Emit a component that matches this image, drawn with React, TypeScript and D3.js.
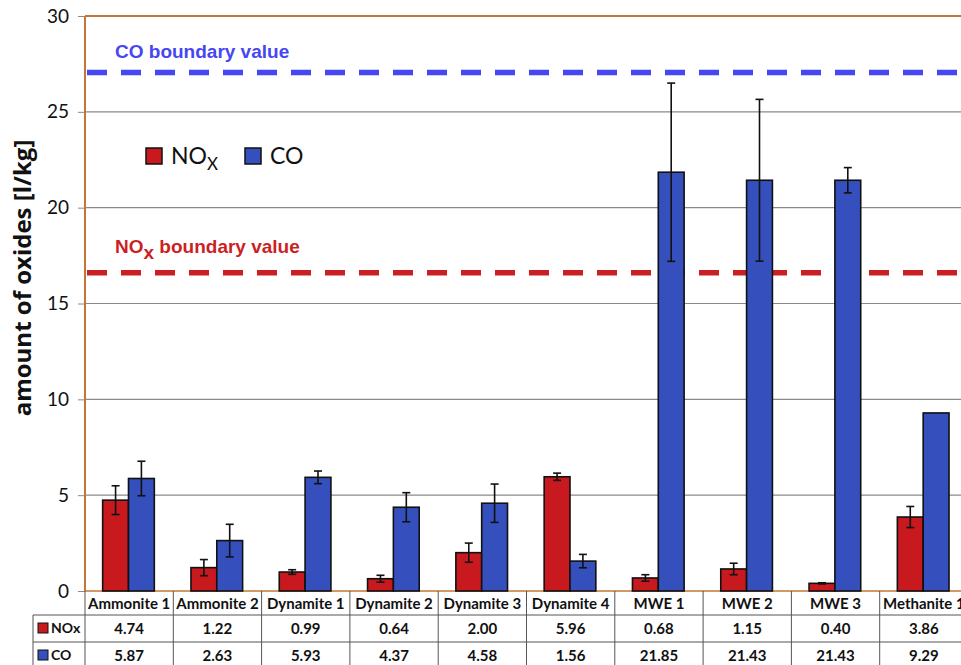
import { useRef, useEffect } from 'react';
import * as d3 from 'd3';

const categories = ['Ammonite 1', 'Ammonite 2', 'Dynamite 1', 'Dynamite 2', 'Dynamite 3', 'Dynamite 4', 'MWE 1', 'MWE 2', 'MWE 3', 'Methanite 1'];
const noxValues = [4.74, 1.22, 0.99, 0.64, 2.0, 5.96, 0.68, 1.15, 0.4, 3.86];
const coValues = [5.87, 2.63, 5.93, 4.37, 4.58, 1.56, 21.85, 21.43, 21.43, 9.29];
const noxErrors = [0.75, 0.42, 0.12, 0.18, 0.5, 0.19, 0.17, 0.3, 0.03, 0.55];
const coErrors = [0.9, 0.85, 0.33, 0.76, 1.0, 0.35, 4.65, 4.22, 0.66, 0];
const yTicks = [0, 5, 10, 15, 20, 25, 30];
const coBoundary = 27.05;
const noxBoundary = 16.6;

const RED = '#c8191f';
const BLUE = '#3550bd';
const FONT = 'Lato, "Open Sans", sans-serif';
const ARIAL = '"Liberation Sans", Arial, sans-serif';

export default function App() {
  const svgRef = useRef(null);
  const width = 961;
  const height = 665;

  useEffect(() => {
    const svg = d3.select(svgRef.current);
    svg.selectAll('*').remove();

    const left = 85;
    const right = 968;
    const top = 16;
    const bottom = 591;

    const x = d3.scaleBand().domain(categories).range([left, right]).paddingInner(0).paddingOuter(0);
    const inner = d3.scaleBand().domain(['NOx', 'CO']).range([x.bandwidth() * 0.2, x.bandwidth() * 0.785]).padding(0);
    const y = d3.scaleLinear().domain([0, 30]).range([bottom, top]);

    // gridlines
    svg.append('g')
      .selectAll('line')
      .data(yTicks.filter((t) => t > 0 && t < 30))
      .join('line')
      .attr('x1', left).attr('x2', right)
      .attr('y1', (d) => y(d)).attr('y2', (d) => y(d))
      .attr('stroke', '#8a8a8a').attr('stroke-width', 1.2);

    // y axis
    const yAxis = svg.append('g')
      .attr('transform', `translate(${left},0)`)
      .call(d3.axisLeft(y).tickValues(yTicks).tickSize(7).tickPadding(9));
    yAxis.select('.domain').remove();
    yAxis.selectAll('line').attr('stroke', '#8a8a8a');
    yAxis.selectAll('text').attr('font-family', FONT).attr('font-size', 19).attr('fill', '#111');

    // frame (orange)
    svg.append('line').attr('x1', left).attr('x2', right).attr('y1', top).attr('y2', top)
      .attr('stroke', '#c57636').attr('stroke-width', 2.2);
    svg.append('line').attr('x1', left).attr('x2', left).attr('y1', top).attr('y2', bottom)
      .attr('stroke', '#c57636').attr('stroke-width', 2);
    svg.append('line').attr('x1', left).attr('x2', right).attr('y1', bottom).attr('y2', bottom)
      .attr('stroke', '#c57636').attr('stroke-width', 1.5);

    // boundary lines
    svg.append('line').attr('x1', left + 2).attr('x2', right).attr('y1', y(coBoundary)).attr('y2', y(coBoundary))
      .attr('stroke', '#4646f2').attr('stroke-width', 5.5).attr('stroke-dasharray', '20 14');
    svg.append('line').attr('x1', left + 2).attr('x2', right).attr('y1', y(noxBoundary)).attr('y2', y(noxBoundary))
      .attr('stroke', '#cc1f24').attr('stroke-width', 5.5).attr('stroke-dasharray', '20 14');

    svg.append('text').attr('x', 115).attr('y', 58)
      .attr('font-family', ARIAL).attr('font-weight', 'bold').attr('font-size', 19).attr('fill', '#4646f2')
      .text('CO boundary value');
    const noxLabel = svg.append('text').attr('x', 115).attr('y', 253)
      .attr('font-family', ARIAL).attr('font-weight', 'bold').attr('font-size', 19).attr('fill', '#cc1f24');
    noxLabel.append('tspan').text('NO');
    noxLabel.append('tspan').attr('dy', 6).attr('font-size', 19).text('x');
    noxLabel.append('tspan').attr('dy', -6).text(' boundary value');

    // bars
    const series = [
      { key: 'NOx', values: noxValues, errors: noxErrors, color: RED },
      { key: 'CO', values: coValues, errors: coErrors, color: BLUE },
    ];
    series.forEach((s) => {
      const g = svg.append('g');
      g.selectAll('rect')
        .data(categories)
        .join('rect')
        .attr('x', (d) => x(d) + inner(s.key))
        .attr('y', (d, i) => y(s.values[i]))
        .attr('width', inner.bandwidth())
        .attr('height', (d, i) => y(0) - y(s.values[i]))
        .attr('fill', s.color)
        .attr('stroke', '#111')
        .attr('stroke-width', 1.6);

      const eb = g.selectAll('g.err')
        .data(categories.map((c, i) => ({ c, v: s.values[i], e: s.errors[i] })).filter((d) => d.e > 0))
        .join('g')
        .attr('transform', (d) => `translate(${x(d.c) + inner(s.key) + inner.bandwidth() / 2},0)`);
      eb.append('line').attr('y1', (d) => y(d.v + d.e)).attr('y2', (d) => y(d.v - d.e))
        .attr('stroke', '#111').attr('stroke-width', 1.6);
      eb.append('line').attr('x1', -4).attr('x2', 4).attr('y1', (d) => y(d.v + d.e)).attr('y2', (d) => y(d.v + d.e))
        .attr('stroke', '#111').attr('stroke-width', 1.6);
      eb.append('line').attr('x1', -4).attr('x2', 4).attr('y1', (d) => y(d.v - d.e)).attr('y2', (d) => y(d.v - d.e))
        .attr('stroke', '#111').attr('stroke-width', 1.6);
    });

    // legend
    const legend = svg.append('g').attr('font-family', FONT).attr('font-size', 23).attr('fill', '#111');
    legend.append('rect').attr('x', 146).attr('y', 148).attr('width', 16).attr('height', 16)
      .attr('fill', RED).attr('stroke', '#111').attr('stroke-width', 1.5);
    const lt = legend.append('text').attr('x', 171).attr('y', 164);
    lt.append('tspan').text('NO');
    lt.append('tspan').attr('dy', 6).attr('font-size', 17).text('X');
    legend.append('rect').attr('x', 245).attr('y', 148).attr('width', 16).attr('height', 16)
      .attr('fill', BLUE).attr('stroke', '#111').attr('stroke-width', 1.5);
    legend.append('text').attr('x', 270).attr('y', 164).text('CO');

    // y axis title
    svg.append('text')
      .attr('transform', `translate(31,278) rotate(-90)`)
      .attr('text-anchor', 'middle')
      .attr('font-family', '"Open Sans", sans-serif').attr('font-weight', 'bold').attr('font-size', 24).attr('fill', '#111')
      .text('amount of oxides [l/kg]');

    // data table
    const rowTops = [591, 615, 642, 669];
    const tableLeft = 33;
    const table = svg.append('g').attr('stroke', '#555').attr('stroke-width', 1);
    table.append('line').attr('x1', tableLeft).attr('x2', right).attr('y1', rowTops[1]).attr('y2', rowTops[1]);
    table.append('line').attr('x1', tableLeft).attr('x2', right).attr('y1', rowTops[2]).attr('y2', rowTops[2]);
    table.append('line').attr('x1', tableLeft).attr('x2', tableLeft).attr('y1', rowTops[1]).attr('y2', rowTops[3]);
    table.selectAll('line.v')
      .data([...categories.map((c) => x(c)), right])
      .join('line')
      .attr('x1', (d) => d).attr('x2', (d) => d)
      .attr('y1', bottom).attr('y2', rowTops[3]);

    const cells = svg.append('g').attr('font-family', FONT).attr('font-weight', 'bold').attr('font-size', 15)
      .attr('fill', '#111').attr('text-anchor', 'middle');
    cells.selectAll('text.h').data(categories).join('text')
      .attr('x', (d) => x(d) + x.bandwidth() / 2).attr('y', 609).text((d) => d);
    cells.selectAll('text.n').data(categories).join('text')
      .attr('x', (d) => x(d) + x.bandwidth() / 2).attr('y', 634).text((d, i) => noxValues[i].toFixed(2));
    cells.selectAll('text.c').data(categories).join('text')
      .attr('x', (d) => x(d) + x.bandwidth() / 2).attr('y', 661).text((d, i) => coValues[i].toFixed(2));

    const keys = svg.append('g').attr('font-family', FONT).attr('font-weight', 'bold').attr('font-size', 14).attr('fill', '#111');
    series.forEach((s, i) => {
      const yy = i === 0 ? 623 : 650;
      keys.append('rect').attr('x', 38).attr('y', yy).attr('width', 10).attr('height', 10)
        .attr('fill', s.color).attr('stroke', '#111').attr('stroke-width', 1);
      keys.append('text').attr('x', 51).attr('y', yy + 10).text(s.key);
    });
  }, []);

  return (
    <div style={{ position: 'absolute', left: 0, top: 0, width, height, overflow: 'hidden', background: '#fff' }}>
      <svg ref={svgRef} width={width} height={height} />
    </div>
  );
}
